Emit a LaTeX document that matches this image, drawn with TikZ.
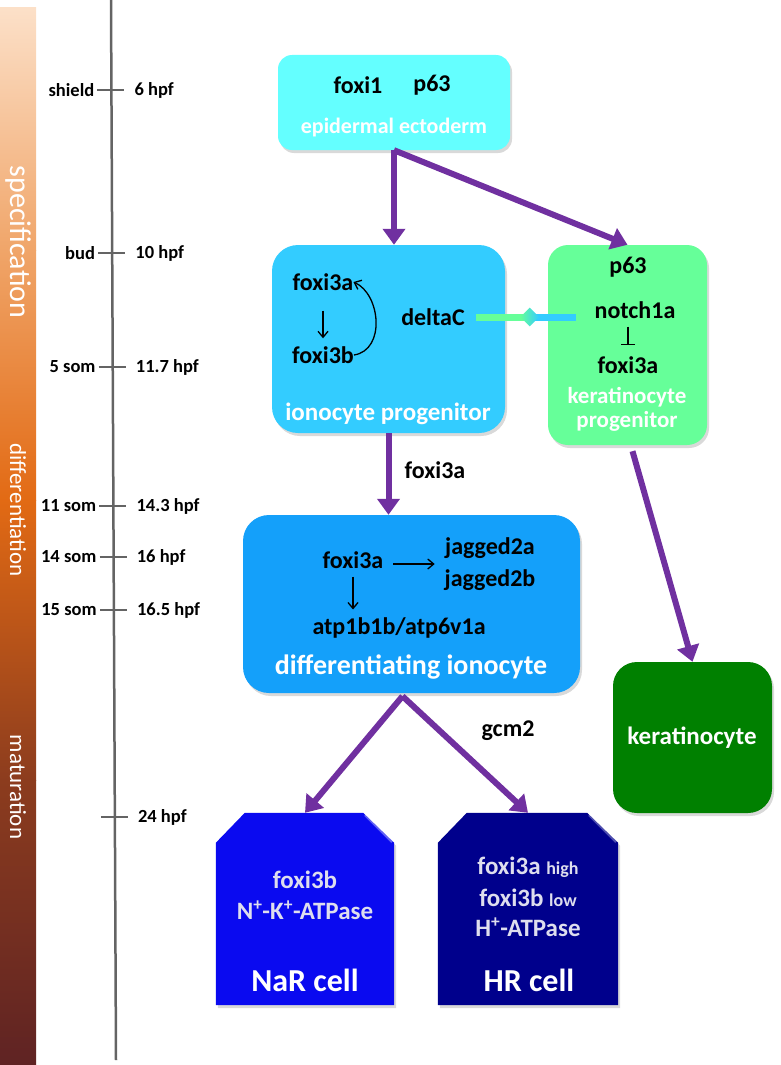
\documentclass[tikz,border=0pt]{standalone}
\usepackage{fontspec}
\setmainfont{Carlito}
\usetikzlibrary{arrows.meta,shapes.geometric,shadows,calc}

\definecolor{epicyan}{RGB}{100,255,255}
\definecolor{progblue}{RGB}{51,204,255}
\definecolor{proggreen}{RGB}{102,255,153}
\definecolor{diffblue}{RGB}{20,160,250}
\definecolor{narblue}{RGB}{10,10,240}
\definecolor{hrblue}{RGB}{0,0,140}
\definecolor{kergreen}{RGB}{0,128,0}
\definecolor{arrowpurple}{RGB}{112,48,160}
\definecolor{linegray}{RGB}{100,100,100}
\definecolor{celltext}{RGB}{222,222,238}
\definecolor{barlight}{RGB}{252,224,200}
\definecolor{barpeach}{RGB}{240,165,105}
\definecolor{barorange}{RGB}{226,106,20}
\definecolor{barbrown}{RGB}{140,60,30}
\definecolor{bardark}{RGB}{95,35,35}

\tikzset{
  stagebox/.style={draw=none, inner sep=0pt, rounded corners=#1,
    drop shadow={opacity=0.3, shadow xshift=2pt, shadow yshift=-3pt}},
  cellbox/.style={draw=none, fill=none, inner sep=0pt},
  gene/.style={font=\fontsize{24}{28}\selectfont\bfseries, text=black, inner sep=0pt},
  whitelabel/.style={font=\fontsize{25}{29}\selectfont\bfseries, text=white, inner sep=0pt},
  celllabel/.style={font=\fontsize{25}{29}\selectfont\bfseries, text=celltext, inner sep=0pt},
  stagearrow/.style={draw=arrowpurple, line width=6pt, -{Triangle[length=16pt,width=22pt]}},
  genearrow/.style={draw=black, line width=1.3pt, -{Straight Barb[length=6pt,width=10pt]}},
  inhibit/.style={draw=black, line width=1.3pt, -{Bar[width=14pt,line width=1.3pt]}},
  timelabel/.style={font=\fontsize{18.5}{22}\selectfont\bfseries, inner sep=0pt},
  phaselabel/.style={font=\fontsize{#1}{#1}\selectfont, text=white, rotate=-90, inner sep=0pt}
}

\begin{document}
\begin{tikzpicture}[x=1pt,y=1pt,yscale=-1]
    \useasboundingbox (0,0) rectangle (780,1065);

    %Shape: phase bar (flipped back so that top color is on top)
    \begin{scope}[yscale=-1]
      \shade[top color=barlight, bottom color=barpeach] (0,-8) rectangle (36,-250.5);
      \shade[top color=barpeach, bottom color=barorange] (0,-250) rectangle (36,-500.5);
      \shade[top color=barorange, bottom color=barbrown] (0,-500) rectangle (36,-780.5);
      \shade[top color=barbrown, bottom color=bardark] (0,-780) rectangle (36,-1065);
    \end{scope}
    \node[phaselabel=30] (specif) at (18,242) {specification};
    \node[phaselabel=23] (differ) at (18,510) {differentiation};
    \node[phaselabel=23] (matur) at (18,787) {maturation};

    %Straight Lines: time line
    \coordinate (tltop) at (111,0);
    \coordinate (tlbot) at (116,1060);
    \draw[linegray, line width=2.5pt] (tltop) -- (tlbot);
    \foreach \y/\l/\r in {90/shield/6 hpf, 253/bud/10 hpf, 367/5 som/11.7 hpf, 506/11 som/14.3 hpf, 557/14 som/16 hpf, 610/15 som/16.5 hpf, 817//24 hpf}{
      \pgfmathsetmacro{\xc}{111+5*\y/1060}
      \draw[linegray, line width=1.8pt] (\xc-14,\y) -- (\xc+13,\y);
      \node[timelabel, anchor=east] (left\y) at (\xc-17,\y) {\l};
      \node[timelabel, anchor=west] (right\y) at (\xc+23,\y) {\r};
    }

    %Shape: epidermal ectoderm
    \node[stagebox=14pt, fill=epicyan, minimum width=232pt, minimum height=95pt] (epi) at (394,102.5) {};
    \node[gene] (foxione) at (358,85) {foxi1};
    \node[gene] (epipsix) at (432,85) {p63};
    \node[whitelabel, font=\fontsize{22}{26}\selectfont\bfseries] (epilabel) at (394,128) {epidermal ectoderm};

    %Shape: ionocyte progenitor
    \node[stagebox=26pt, fill=progblue, minimum width=233pt, minimum height=188pt] (ionprog) at (388.5,339) {};
    \node[gene] (ipfoxa) at (323,282) {foxi3a};
    \node[gene] (ipfoxb) at (323,355) {foxi3b};
    \node[gene] (deltac) at (433,317) {deltaC};
    \node[whitelabel] (iplabel) at (388,414) {ionocyte progenitor};
    \draw[genearrow, shorten <=20pt, shorten >=8pt] (ipfoxa.south) -- (ipfoxb.north);
    \draw[genearrow] (ipfoxb.east) .. controls +(32,-5) and +(27,12) .. (ipfoxa.east);

    %Shape: keratinocyte progenitor
    \node[stagebox=20pt, fill=proggreen, minimum width=159pt, minimum height=200pt] (kerprog) at (627.5,345) {};
    \node[gene] (kppsix) at (628,267) {p63};
    \node[gene] (notch) at (635,310) {notch1a};
    \node[gene] (kpfoxa) at (628,365) {foxi3a};
    \node[whitelabel, align=center, font=\fontsize{23}{24}\selectfont\bfseries] (kplabel) at (627,409) {keratinocyte\\progenitor};
    \draw[inhibit, shorten <=8pt, shorten >=11pt] (kpfoxa.north |- notch.south) -- (kpfoxa.north);

    %Straight Lines: deltaC - notch1a
    \coordinate (dmid) at ($(deltac.east)!0.5!(deltac.east -| notch.west)$);
    \draw[proggreen, line width=7pt, shorten <=11pt] (deltac.east) -- (dmid);
    \draw[progblue, line width=7pt, shorten >=18pt] (dmid) -- (deltac.east -| notch.west);
    \node[diamond, inner sep=0pt, minimum size=19pt, left color=proggreen, right color=progblue] (dknob) at (dmid) {};

    %Shape: differentiating ionocyte
    \node[stagebox=26pt, fill=diffblue, minimum width=337pt, minimum height=178pt] (diff) at (411.5,604) {};
    \node[gene] (dfoxa) at (353,560) {foxi3a};
    \node[gene] (jagA) at (490,548) {jagged2a};
    \node[gene] (jagB) at (490,580) {jagged2b};
    \node[gene] (atp) at (399,628) {atp1b1b/atp6v1a};
    \node[whitelabel, font=\fontsize{28}{32}\selectfont\bfseries] (dlabel) at (411,667) {differentiating ionocyte};
    \coordinate (jagin) at ($(jagA.west)!0.5!(jagB.west)$);
    \draw[genearrow, shorten <=10pt, shorten >=10pt] (dfoxa.east |- jagin) -- (jagin);
    \draw[genearrow, shorten <=8pt, shorten >=8pt] (dfoxa.south) -- (dfoxa.south |- atp.north);

    %Shape: keratinocyte
    \node[stagebox=24pt, fill=kergreen, minimum width=159pt, minimum height=151pt] (ker) at (692.5,737.5) {};
    \node[whitelabel] (kerlabel) at (692,738) {keratinocyte};

    %Shape: NaR cell
    \node[cellbox, minimum width=178pt, minimum height=192pt] (nar) at (305,909) {};
    \fill[narblue, drop shadow={opacity=0.3, shadow xshift=2pt, shadow yshift=-3pt}]
      (nar.south west) -- ($(nar.north west)+(0,30)$) -- ($(nar.north west)+(29,0)$)
      -- ($(nar.north east)+(-31,0)$) -- ($(nar.north east)+(0,30)$) -- (nar.south east) -- cycle;
    \draw[white, opacity=0.35, line width=3pt] ($(nar.north east)+(-29,2)$) -- ($(nar.north east)+(-2,29)$);
    \node[celllabel] (narfox) at (305,880) {foxi3b};
    \node[celllabel] (naratp) at (305,910) {N\textsuperscript{+}-K\textsuperscript{+}-ATPase};
    \node[whitelabel, font=\fontsize{32}{36}\selectfont\bfseries] (narlabel) at (305,980) {NaR cell};

    %Shape: HR cell
    \node[cellbox, minimum width=180pt, minimum height=192pt] (hr) at (528,909) {};
    \fill[hrblue, drop shadow={opacity=0.3, shadow xshift=2pt, shadow yshift=-3pt}]
      (hr.south west) -- ($(hr.north west)+(0,30)$) -- ($(hr.north west)+(29,0)$)
      -- ($(hr.north east)+(-31,0)$) -- ($(hr.north east)+(0,30)$) -- (hr.south east) -- cycle;
    \draw[white, opacity=0.3, line width=3pt] ($(hr.north east)+(-29,2)$) -- ($(hr.north east)+(-2,29)$);
    \node[celllabel] (hrfoxa) at (528,867) {foxi3a {\fontsize{18}{21}\selectfont high}};
    \node[celllabel] (hrfoxb) at (528,898) {foxi3b {\fontsize{18}{21}\selectfont low}};
    \node[celllabel] (hratp) at (528,927) {H\textsuperscript{+}-ATPase};
    \node[whitelabel, font=\fontsize{32}{36}\selectfont\bfseries] (hrlabel) at (529,980) {HR cell};

    %Straight Lines: lineage arrows
    \coordinate (split) at ($(diff.south)+(-9,3)$);
    \draw[stagearrow] (epi.south) -- (epi.south |- ionprog.north);
    \draw[stagearrow] (epi.south) -- (kerprog.north);
    \draw[stagearrow] (ionprog.south) -- (ionprog.south |- diff.north);
    \draw[stagearrow] ($(kerprog.south)+(5,6)$) -- (ker.north);
    \draw[stagearrow] (split) -- (nar.north);
    \draw[stagearrow] (split) -- (hr.north);

    % Text Node
    \node[gene] (ipout) at (435,470) {foxi3a};
    % Text Node
    \node[gene] (gcm) at (508,731) {gcm2};

\end{tikzpicture}
\end{document}
